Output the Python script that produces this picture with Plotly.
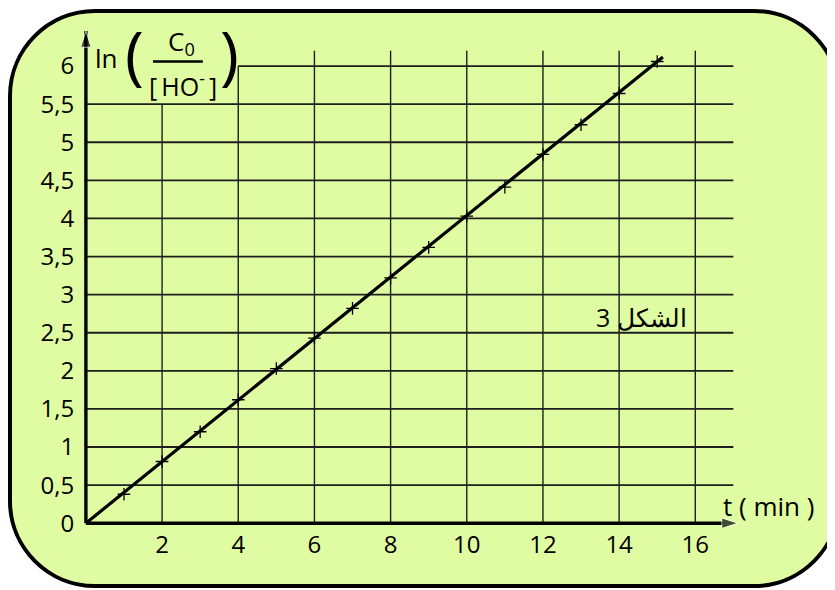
import plotly.graph_objects as go

# measured points ln(C0/[HO-]) vs t (min)
t_min = [1, 2, 3, 4, 5, 6, 7, 8, 9, 10, 11, 12, 13, 14, 15]
ln_ratio = [0.38, 0.81, 1.20, 1.62, 2.03, 2.43, 2.82, 3.22, 3.62, 4.03, 4.41, 4.84, 5.23, 5.64, 6.06]

# straight line drawn through the points
fit_t = [0, 15.15]
fit_ln = [0, 6.12]

x_ticks = [2, 4, 6, 8, 10, 12, 14, 16]
y_ticks = [0, 0.5, 1, 1.5, 2, 2.5, 3, 3.5, 4, 4.5, 5, 5.5, 6]
y_labels = ["0", "0,5", "1", "1,5", "2", "2,5", "3", "3,5", "4", "4,5", "5", "5,5", "6"]

# figure geometry (pixels, page has an 8px body margin)
W, H = 827, 582
L, R, T, B = 76, 94, 20, 63
PW, PH = W - L - R, H - T - B


def px2paper(px, py):
    return (px - L) / PW, (H - B - py) / PH


def pp(px, py):
    return "%.5f,%.5f" % px2paper(px, py)


def rounded_rect(x0, y0, x1, y1, r):
    k = 0.5523 * r
    return ("M" + pp(x0 + r, y0) + " L" + pp(x1 - r, y0) +
            " C" + pp(x1 - r + k, y0) + " " + pp(x1, y0 + r - k) + " " + pp(x1, y0 + r) +
            " L" + pp(x1, y1 - r) +
            " C" + pp(x1, y1 - r + k) + " " + pp(x1 - r + k, y1) + " " + pp(x1 - r, y1) +
            " L" + pp(x0 + r, y1) +
            " C" + pp(x0 + r - k, y1) + " " + pp(x0, y1 - r + k) + " " + pp(x0, y1 - r) +
            " L" + pp(x0, y0 + r) +
            " C" + pp(x0, y0 + r - k) + " " + pp(x0 + r - k, y0) + " " + pp(x0 + r, y0) + " Z")


# grid segments (label box at top-left hides part of the grid)
hx, hy = [], []
for v in y_ticks[1:]:
    start = 4 if v == 6 else 0
    hx += [start, 17, None]
    hy += [v, v, None]
vx, vy = [], []
for v in x_ticks:
    top = 5.5 if v == 2 else (6.0 if v == 4 else 6.2)
    vx += [v, v, None]
    vy += [0, top, None]

fig = go.Figure()
fig.add_trace(go.Scatter(x=hx, y=hy, mode="lines", line=dict(color="#1e1e1e", width=1.8),
                         hoverinfo="skip", showlegend=False))
fig.add_trace(go.Scatter(x=vx, y=vy, mode="lines", line=dict(color="#1e1e1e", width=1.4),
                         hoverinfo="skip", showlegend=False))

# the two axes, with arrow heads
fig.add_trace(go.Scatter(x=[0, 17.12], y=[0, 0], mode="lines+markers",
                         line=dict(color="black", width=3.4),
                         marker=dict(symbol="arrow", angleref="previous", size=[0, 17], color="black"),
                         cliponaxis=False, hoverinfo="skip", showlegend=False))
fig.add_trace(go.Scatter(x=[0, 0], y=[0, 6.46], mode="lines+markers",
                         line=dict(color="black", width=3.4),
                         marker=dict(symbol="arrow", angleref="previous", size=[0, 17], color="black"),
                         cliponaxis=False, hoverinfo="skip", showlegend=False))

fig.add_trace(go.Scatter(x=fit_t, y=fit_ln, mode="lines", line=dict(color="black", width=3.2),
                         showlegend=False))
fig.add_trace(go.Scatter(x=t_min, y=ln_ratio, mode="markers",
                         marker=dict(symbol="cross-thin", size=9, line=dict(color="black", width=1.3)),
                         showlegend=False))

fig.add_shape(type="path", xref="paper", yref="paper", layer="below",
              path=rounded_rect(2, 3, 831, 578, 85),
              fillcolor="#e0fca2", line=dict(color="black", width=4))

# fraction bar of the y label
fig.add_shape(type="line", xref="x", yref="y", x0=1.76, x1=3.07, y0=6.06, y1=6.06,
              line=dict(color="black", width=2.5))

fnt = "Open Sans"
ann = [
    dict(x=0.55, y=6.10, text="ln", font=dict(size=26)),
    dict(x=1.27, y=6.17, text="(", font=dict(size=64)),
    dict(x=3.78, y=6.17, text=")", font=dict(size=64)),
    dict(x=2.52, y=6.31, text="C<sub>0</sub>", font=dict(size=26)),
    dict(x=2.55, y=5.76, text="[\u2009HO<sup>-</sup>\u2009]", font=dict(size=25)),
    dict(x=14.60, y=2.71, text="3 الشكل", font=dict(size=25)),
]
for a in ann:
    a["font"].update(family=fnt, color="black")
    fig.add_annotation(xref="x", yref="y", showarrow=False, **a)

tx, ty = px2paper(760, 498)
fig.add_annotation(xref="paper", yref="paper", x=tx, y=ty, xanchor="center", yanchor="middle",
                   text="t ( min )", showarrow=False,
                   font=dict(family=fnt, size=26, color="black"))

axis_style = dict(showgrid=False, showline=False, zeroline=False,
                  ticks="outside", tickcolor="rgba(0,0,0,0)", tickfont=dict(size=24))

fig.update_layout(
    width=W, height=H,
    margin=dict(l=L, r=R, t=T, b=B),
    paper_bgcolor="white",
    plot_bgcolor="rgba(0,0,0,0)",
    font=dict(family=fnt, size=24, color="black"),
    xaxis=dict(range=[-0.05, 17.2], tickvals=x_ticks, ticktext=[str(v) for v in x_ticks],
               ticklen=0, ticklabelstandoff=-4, **axis_style),
    yaxis=dict(range=[-0.05, 6.5], tickvals=y_ticks, ticktext=y_labels,
               ticklen=4, **axis_style),
)

fig.write_html("out.html")
